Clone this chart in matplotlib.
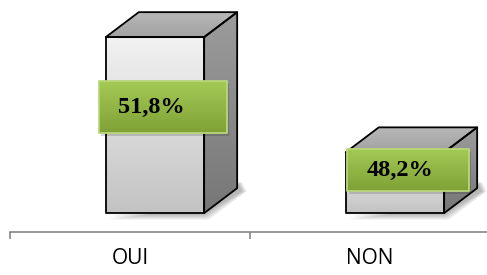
import numpy as np
import matplotlib
matplotlib.use('Agg')
import matplotlib.pyplot as plt
from matplotlib.patches import Polygon

categories = ['OUI', 'NON']
values = [51.8, 48.2]
labels = ['51,8%', '48,2%']

BASE = 46.3          # value where the bars sit on the floor
Y_LO, Y_HI = 45.71, 52.96
OFF = 0.104          # 3D perspective shift of the front face
W = 0.41             # front face width
DX, DY = 0.1375, 0.78  # depth of the boxes


def gradient(ax, poly, c_top, c_bot, y0, y1, edge='black', z=2):
    x0 = poly[:, 0].min(); x1 = poly[:, 0].max()
    top = np.array(matplotlib.colors.to_rgb(c_top))
    bot = np.array(matplotlib.colors.to_rgb(c_bot))
    t = np.linspace(0, 1, 100)[:, None]
    img = (top * (1 - t) + bot * t)[:, None, :]
    im = ax.imshow(img, extent=[x0, x1, y0, y1], aspect='auto', origin='upper', zorder=z)
    patch = Polygon(poly, closed=True, facecolor='none', edgecolor='none')
    ax.add_patch(patch)
    im.set_clip_path(patch)
    ax.add_patch(Polygon(poly, closed=True, facecolor='none', edgecolor=edge, lw=1.3, zorder=z + 1,
                         joinstyle='round'))


fig = plt.figure(figsize=(4.87, 2.75), dpi=100)
ax = fig.add_axes([0, 43 / 275, 1, 1 - 43 / 275])

for i, (v, lab) in enumerate(zip(values, labels)):
    xl = i + OFF - W / 2
    xr = i + OFF + W / 2
    # soft shadow
    for k in range(6):
        s = 0.004 * k
        sh = np.array([[xl + 0.01, BASE - 0.05 - s * 8], [xr + s, BASE - 0.05 - s * 8],
                       [xr + DX + 0.02 + s, BASE + DY - 0.1], [xr + DX + s, BASE + DY + 0.2],
                       [xr, BASE + 0.2]])
        ax.add_patch(Polygon(sh, closed=True, facecolor='black', edgecolor='none', alpha=0.05, zorder=1))
    front = np.array([[xl, BASE], [xr, BASE], [xr, v], [xl, v]])
    side = np.array([[xr, BASE], [xr + DX, BASE + DY], [xr + DX, v + DY], [xr, v]])
    top = np.array([[xl, v], [xr, v], [xr + DX, v + DY], [xl + DX, v + DY]])
    gradient(ax, front, '#f2f2f2', '#c3c3c3', BASE, v)
    gradient(ax, side, '#9c9c9c', '#777777', BASE, v + DY)
    gradient(ax, top, '#b8b8b8', '#a2a2a2', v, v + DY)

# value labels in green boxes
box_pos = [(0.1375, 49.61), (1.158, 47.64)]
box_size = [(0.533, 1.625), (0.508, 1.31)]
text_dx = [-0.05, -0.033]
for (bx, by), (bw, bh), lab, tdx in zip(box_pos, box_size, labels, text_dx):
    sh = np.array([[bx - bw / 2 + 0.008, by - bh / 2 - 0.1], [bx + bw / 2 + 0.008, by - bh / 2 - 0.1],
                   [bx + bw / 2 + 0.008, by + bh / 2 - 0.1], [bx - bw / 2 + 0.008, by + bh / 2 - 0.1]])
    ax.add_patch(Polygon(sh, closed=True, facecolor='black', edgecolor='none', alpha=0.15, zorder=4))
    poly = np.array([[bx - bw / 2, by - bh / 2], [bx + bw / 2, by - bh / 2],
                     [bx + bw / 2, by + bh / 2], [bx - bw / 2, by + bh / 2]])
    gradient(ax, poly, '#a4ca55', '#7fa136', by - bh / 2, by + bh / 2, edge='#b9d77a', z=5)
    ax.text(bx + tdx, by, lab, ha='center', va='center', fontsize=17.5, fontweight='bold',
            family='Liberation Serif', color='black', zorder=7)

ax.set_xlim(-0.5 - 10 / 240, 0.5 + 237 / 240)
ax.set_ylim(Y_LO, Y_HI)

for s in ['top', 'right', 'left']:
    ax.spines[s].set_visible(False)
ax.spines['bottom'].set_bounds(-0.5, 1.6)
ax.spines['bottom'].set_color('#868686')
ax.spines['bottom'].set_linewidth(1.2)
ax.set_yticks([])
ax.set_xticks([-0.5, 0.5])
ax.set_xticklabels([])
ax.tick_params(axis='x', length=5, width=1.2, color='#868686', direction='out')
for i, c in enumerate(categories):
    ax.text(i, Y_LO - 0.5, c, ha='center', va='top', fontsize=15,
            family='Open Sans', color='black')

fig.savefig('out.png', dpi=100)
